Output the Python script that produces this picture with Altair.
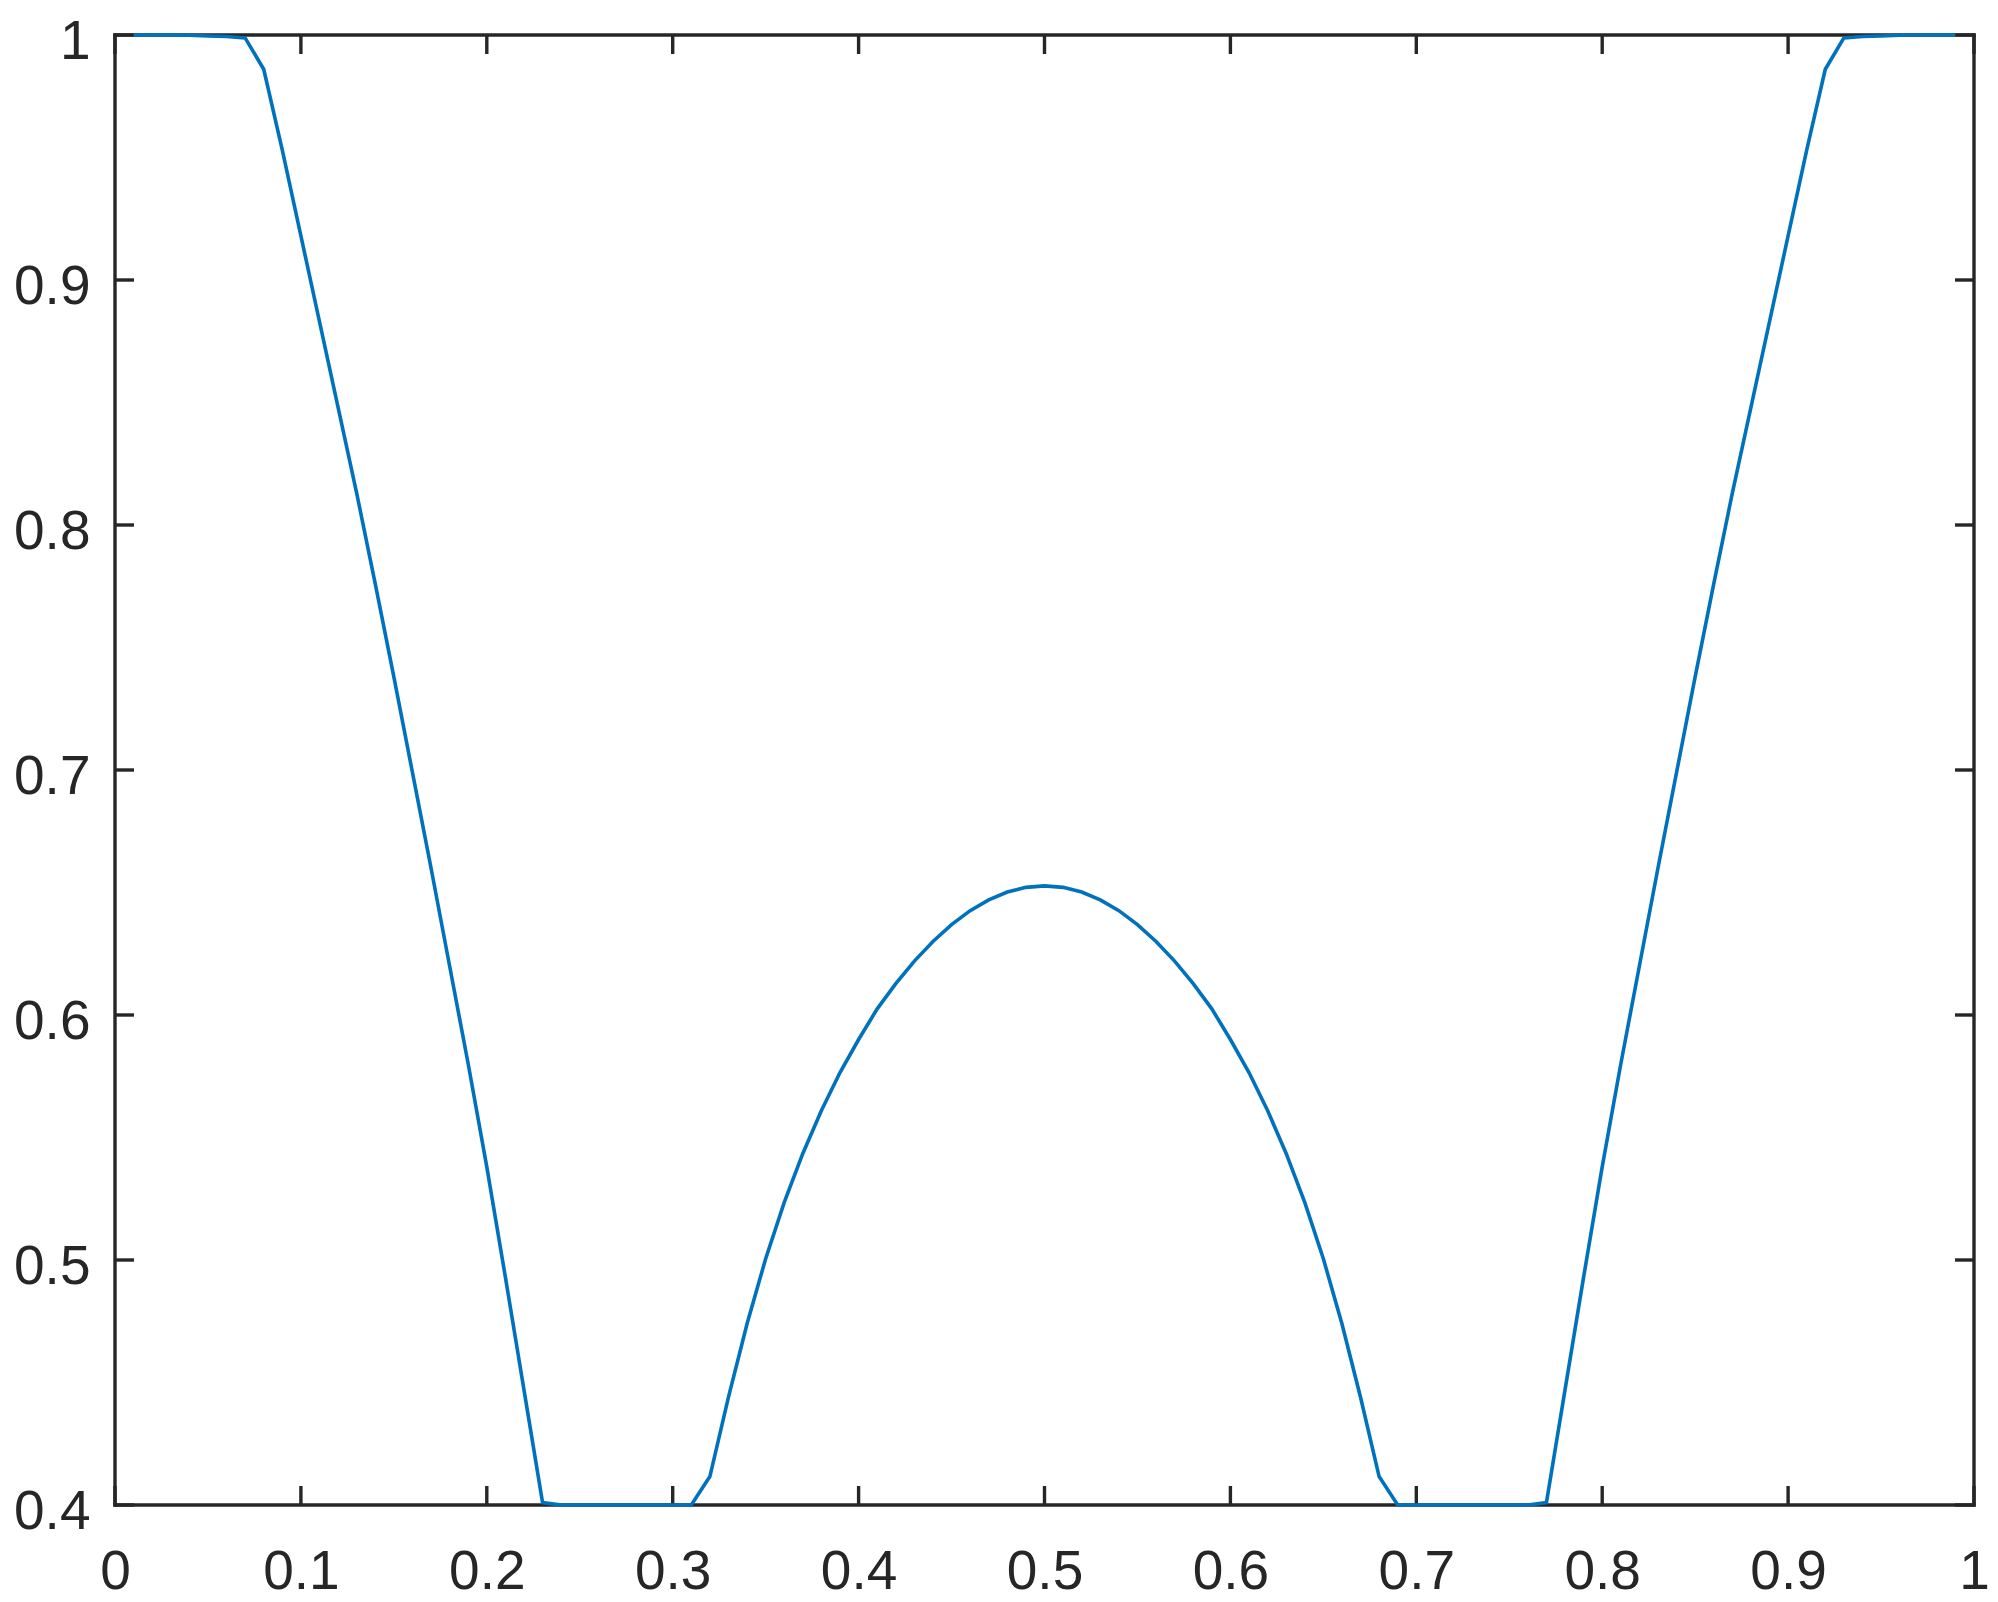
import altair as alt
import pandas as pd

# sample positions 0.01 .. 0.99
x_vals = [round(0.01 * i, 2) for i in range(1, 100)]

# curve values (0.01 .. 0.99)
y_vals = [
    1.0, 1.0, 1.0, 0.9999, 0.9996, 0.9994, 0.9988, 0.986, 0.953, 0.918,
    0.883, 0.848, 0.813, 0.776, 0.738, 0.699, 0.660, 0.620, 0.580, 0.538,
    0.493, 0.447, 0.401, 0.4, 0.4, 0.4, 0.4, 0.4, 0.4, 0.4,
    0.4, 0.4116, 0.4440, 0.4740, 0.5005, 0.5235, 0.5435, 0.5610, 0.5765, 0.5900,
    0.6025, 0.6128, 0.6220, 0.6300, 0.6369, 0.6426, 0.6470, 0.6502, 0.6521, 0.6527,
    0.6521, 0.6502, 0.6470, 0.6426, 0.6369, 0.6300, 0.6220, 0.6128, 0.6025, 0.5900,
    0.5765, 0.5610, 0.5435, 0.5235, 0.5005, 0.4740, 0.4440, 0.4116, 0.4, 0.4,
    0.4, 0.4, 0.4, 0.4, 0.4, 0.4, 0.401, 0.447, 0.493, 0.538,
    0.580, 0.620, 0.660, 0.699, 0.738, 0.776, 0.813, 0.848, 0.883, 0.918,
    0.953, 0.986, 0.9988, 0.9994, 0.9996, 0.9999, 1.0, 1.0, 1.0,
]

x_ticks = [0, 0.1, 0.2, 0.3, 0.4, 0.5, 0.6, 0.7, 0.8, 0.9, 1]
y_ticks = [0.4, 0.5, 0.6, 0.7, 0.8, 0.9, 1]

W, H = 1859, 1470
TICK = 19
AX = "#262626"
LW = 3.4

line_df = pd.DataFrame({"x": x_vals, "y": y_vals})
xt_df = pd.DataFrame({"x": x_ticks})
yt_df = pd.DataFrame({"y": y_ticks})
one = pd.DataFrame({"a": [0]})

xscale = alt.Scale(domain=[0, 1], nice=False, zero=False)
yscale = alt.Scale(domain=[0.4, 1], nice=False, zero=False)

label_common = dict(
    domain=False, ticks=False, tickSize=0, grid=False, labelFlush=False,
    labelFont="Liberation Sans", labelFontSize=55, labelColor=AX,
    format=".1~f", title=None,
)
x_axis = alt.Axis(values=x_ticks, labelPadding=40, **label_common)
y_axis = alt.Axis(values=y_ticks, labelPadding=25, labelOffset=6, **label_common)

X = alt.X("x:Q", scale=xscale, axis=x_axis)
Y = alt.Y("y:Q", scale=yscale, axis=y_axis)

rule_kw = dict(color=AX, strokeWidth=LW, strokeCap="square")

box = [
    alt.Chart(one).mark_rule(**rule_kw).encode(x=alt.value(0), x2=alt.value(W), y=alt.value(0)),
    alt.Chart(one).mark_rule(**rule_kw).encode(x=alt.value(0), x2=alt.value(W), y=alt.value(H)),
    alt.Chart(one).mark_rule(**rule_kw).encode(x=alt.value(0), y=alt.value(0), y2=alt.value(H)),
    alt.Chart(one).mark_rule(**rule_kw).encode(x=alt.value(W), y=alt.value(0), y2=alt.value(H)),
]

tick_kw = dict(color=AX, strokeWidth=LW)
xt_bottom = alt.Chart(xt_df).mark_rule(**tick_kw).encode(
    x=X, y=alt.value(H), y2=alt.value(H - TICK))
xt_top = alt.Chart(xt_df).mark_rule(**tick_kw).encode(
    x=X, y=alt.value(0), y2=alt.value(TICK))
yt_left = alt.Chart(yt_df).mark_rule(**tick_kw).encode(
    y=Y, x=alt.value(0), x2=alt.value(TICK))
yt_right = alt.Chart(yt_df).mark_rule(**tick_kw).encode(
    y=Y, x=alt.value(W), x2=alt.value(W - TICK))

line = alt.Chart(line_df).mark_line(color="#0072BD", strokeWidth=3.6).encode(x=X, y=Y)

chart = alt.layer(*box, xt_bottom, xt_top, yt_left, yt_right, line).properties(
    width=W, height=H,
    autosize=alt.AutoSizeParams(type="none"),
    padding={"left": 107, "top": 27, "right": 16, "bottom": 96},
).configure_view(stroke=None).configure(background="white")

chart.save("out.html", embed_options={"renderer": "svg", "actions": False})
